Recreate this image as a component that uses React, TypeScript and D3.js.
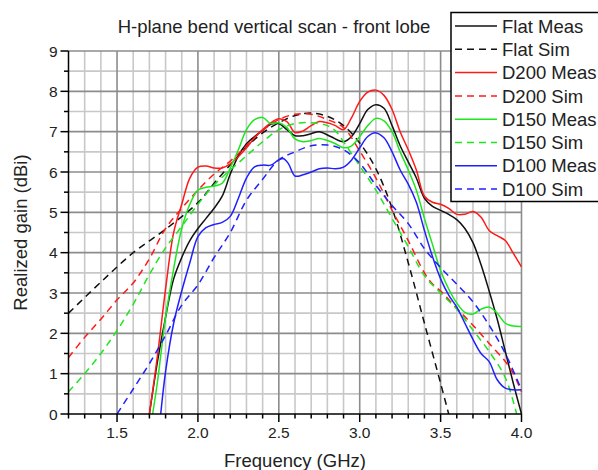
import React from "react";
import * as d3 from "d3";

const W = 598;
const H = 470;

const titleText = "H-plane bend vertical scan - front lobe";
const xLabel = "Frequency (GHz)";
const yLabel = "Realized gain (dBi)";

const xTickLabels = ["1.5", "2.0", "2.5", "3.0", "3.5", "4.0"];
const yTickLabels = ["0", "1", "2", "3", "4", "5", "6", "7", "8", "9"];

const flatMeas: [number, number][] = [
  [1.7, 0], [1.75, 1.3], [1.8, 2.4], [1.85, 3.35], [1.9, 3.88], [1.95, 4.3], [2.0, 4.6], [2.05, 4.85],
  [2.1, 5.1], [2.15, 5.4], [2.2, 5.95], [2.25, 6.4], [2.3, 6.7], [2.35, 6.88], [2.4, 7.03], [2.45, 7.18],
  [2.5, 7.2], [2.55, 7.05], [2.6, 6.9], [2.65, 6.9], [2.7, 6.95], [2.75, 7.0], [2.82, 6.88], [2.9, 6.75],
  [2.95, 6.88], [3.0, 7.2], [3.05, 7.55], [3.1, 7.67], [3.15, 7.58], [3.2, 7.15], [3.25, 6.65], [3.3, 6.25],
  [3.35, 5.85], [3.4, 5.35], [3.45, 5.15], [3.5, 5.05], [3.55, 4.95], [3.6, 4.82], [3.65, 4.6], [3.7, 4.25],
  [3.75, 3.7], [3.8, 3.05], [3.85, 2.35], [3.9, 1.55], [3.95, 0.75], [4.0, 0],
];

const flatSim: [number, number][] = [
  [1.2, 2.5], [1.4, 3.27], [1.6, 4.0], [1.8, 4.58], [2.0, 5.24], [2.1, 5.72], [2.2, 6.18], [2.3, 6.62],
  [2.4, 6.97], [2.5, 7.22], [2.6, 7.4], [2.7, 7.46], [2.8, 7.38], [2.9, 7.15], [3.0, 6.72], [3.1, 6.08],
  [3.2, 5.1], [3.3, 3.75], [3.4, 2.25], [3.5, 0.76], [3.55, 0],
];

const d200Meas: [number, number][] = [
  [1.7, 0], [1.75, 1.45], [1.8, 3.1], [1.85, 4.5], [1.9, 5.2], [1.95, 5.85], [2.0, 6.12], [2.05, 6.15],
  [2.1, 6.1], [2.15, 6.1], [2.2, 6.2], [2.25, 6.38], [2.3, 6.6], [2.35, 6.85], [2.4, 7.05], [2.45, 7.22],
  [2.5, 7.32], [2.55, 7.25], [2.6, 6.98], [2.65, 7.02], [2.7, 7.15], [2.75, 7.25], [2.8, 7.22], [2.85, 7.15],
  [2.9, 7.05], [2.95, 7.35], [3.0, 7.75], [3.05, 7.98], [3.1, 8.03], [3.15, 7.9], [3.2, 7.55], [3.25, 7.0],
  [3.3, 6.55], [3.35, 6.05], [3.4, 5.4], [3.45, 5.25], [3.5, 5.2], [3.55, 5.1], [3.6, 4.95], [3.65, 4.95],
  [3.7, 5.02], [3.75, 4.88], [3.8, 4.55], [3.85, 4.42], [3.9, 4.3], [3.95, 3.98], [4.0, 3.65],
];

const d200Sim: [number, number][] = [
  [1.2, 1.4], [1.3, 1.9], [1.4, 2.35], [1.5, 2.83], [1.6, 3.25], [1.7, 3.85], [1.8, 4.6], [1.9, 5.1],
  [2.0, 5.55], [2.1, 5.95], [2.2, 6.27], [2.3, 6.65], [2.4, 7.03], [2.5, 7.3], [2.6, 7.43], [2.7, 7.43],
  [2.8, 7.3], [2.9, 7.1], [3.0, 6.52], [3.1, 5.85], [3.2, 5.05], [3.3, 4.3], [3.4, 3.5], [3.45, 3.22],
  [3.5, 3.05], [3.6, 2.62], [3.7, 2.2], [3.8, 1.75], [3.9, 1.3], [3.95, 1.0], [4.0, 0.55],
];

const d150Meas: [number, number][] = [
  [1.72, 0], [1.75, 0.8], [1.8, 2.4], [1.85, 3.6], [1.9, 4.6], [1.95, 5.2], [2.0, 5.55], [2.05, 5.62],
  [2.1, 5.65], [2.15, 5.72], [2.2, 6.1], [2.25, 6.55], [2.3, 7.05], [2.35, 7.3], [2.4, 7.35], [2.45, 7.2],
  [2.5, 7.22], [2.55, 7.1], [2.6, 6.82], [2.65, 6.75], [2.7, 6.78], [2.75, 6.83], [2.8, 6.78], [2.85, 6.7],
  [2.9, 6.6], [2.95, 6.65], [3.0, 6.88], [3.05, 7.15], [3.1, 7.33], [3.15, 7.27], [3.2, 7.0], [3.25, 6.5],
  [3.3, 6.05], [3.35, 5.55], [3.4, 4.85], [3.45, 4.2], [3.5, 3.55], [3.55, 3.1], [3.6, 2.75], [3.65, 2.52],
  [3.7, 2.48], [3.75, 2.6], [3.8, 2.65], [3.85, 2.5], [3.9, 2.25], [3.95, 2.18], [4.0, 2.17],
];

const d150Sim: [number, number][] = [
  [1.2, 0.55], [1.3, 1.0], [1.4, 1.5], [1.5, 2.07], [1.6, 2.72], [1.7, 3.46], [1.8, 4.12], [1.9, 4.65],
  [2.0, 5.2], [2.1, 5.68], [2.2, 6.05], [2.3, 6.4], [2.4, 6.75], [2.5, 7.05], [2.6, 7.2], [2.7, 7.22],
  [2.8, 7.15], [2.85, 7.02], [2.9, 6.75], [3.0, 6.15], [3.1, 5.55], [3.2, 4.85], [3.3, 4.15], [3.4, 3.43],
  [3.5, 3.0], [3.6, 2.6], [3.7, 2.08], [3.8, 1.55], [3.9, 0.9], [3.97, 0],
];

const d100Meas: [number, number][] = [
  [1.77, 0], [1.8, 1.05], [1.85, 2.25], [1.9, 3.05], [1.95, 3.75], [2.0, 4.4], [2.05, 4.62], [2.1, 4.7],
  [2.15, 4.75], [2.2, 4.9], [2.25, 5.35], [2.3, 5.85], [2.35, 6.13], [2.4, 6.17], [2.45, 6.17], [2.5, 6.3],
  [2.53, 6.33], [2.56, 6.2], [2.6, 5.9], [2.65, 5.93], [2.7, 6.0], [2.75, 6.08], [2.8, 6.1], [2.85, 6.08],
  [2.9, 6.12], [2.95, 6.3], [3.0, 6.6], [3.05, 6.88], [3.1, 6.97], [3.15, 6.85], [3.2, 6.5], [3.25, 6.05],
  [3.3, 5.7], [3.35, 5.25], [3.4, 4.55], [3.45, 3.9], [3.5, 3.35], [3.55, 2.95], [3.6, 2.65], [3.65, 2.25],
  [3.7, 1.85], [3.75, 1.5], [3.8, 1.3], [3.85, 0.85], [3.9, 0.64], [3.95, 0.6], [4.0, 0.6],
];

const d100Sim: [number, number][] = [
  [1.5, 0], [1.6, 0.62], [1.7, 1.25], [1.8, 1.95], [1.9, 2.7], [2.0, 3.2], [2.1, 3.88], [2.2, 4.5],
  [2.3, 5.3], [2.4, 5.82], [2.5, 6.3], [2.6, 6.5], [2.7, 6.65], [2.8, 6.67], [2.9, 6.55], [3.0, 6.22],
  [3.1, 5.67], [3.2, 5.17], [3.3, 4.72], [3.4, 4.1], [3.5, 3.63], [3.6, 3.22], [3.7, 2.78], [3.8, 2.2],
  [3.9, 1.5], [4.0, 0.6],
];

const seriesNames = ["Flat Meas", "Flat Sim", "D200 Meas", "D200 Sim", "D150 Meas", "D150 Sim", "D100 Meas", "D100 Sim"];
const seriesData = [flatMeas, flatSim, d200Meas, d200Sim, d150Meas, d150Sim, d100Meas, d100Sim];
const seriesColors = ["#111111", "#111111", "#ff1a1a", "#ff1a1a", "#1ee61e", "#1ee61e", "#1f1fff", "#1f1fff"];
const seriesDashed = [false, true, false, true, false, true, false, true];

const FONT = "'Liberation Sans', Arial, sans-serif";

export default function App() {
  const x = d3.scaleLinear().domain([1.2, 4.0]).range([68.5, 521.5]);
  const y = d3.scaleLinear().domain([0, 9]).range([414, 51]);
  const [x0, x1] = x.range();
  const [y0, y1] = y.range();

  const minorX = d3.range(13, 41).map((v) => v / 10).filter((v) => Math.round(v * 10) % 5 !== 0);
  const majorX = [1.5, 2.0, 2.5, 3.0, 3.5, 4.0];
  const minorY = d3.range(0, 9).map((v) => v + 0.5);
  const majorY = d3.range(1, 10);
  const allXTicks = d3.range(12, 41).map((v) => v / 10);

  const line = d3
    .line<[number, number]>()
    .x((d) => x(d[0]))
    .y((d) => y(d[1]))
    .curve(d3.curveCatmullRom.alpha(0.5));

  const legendX = 451;
  const legendY = 12.5;
  const legendRowH = 23.3;
  const legendFirst = 26;

  return (
    <svg width={W} height={H} style={{ position: "absolute", left: 0, top: 0 }} fontFamily={FONT}>
      <rect x={0} y={0} width={W} height={H} fill="#ffffff" />
      <defs>
        <clipPath id="plotClip">
          <rect x={x0} y={y1 - 2} width={x1 - x0 + 2} height={y0 - y1 + 2} />
        </clipPath>
      </defs>
      {/* grid */}
      <g>
        {minorX.map((v) => (
          <line key={"mx" + v} x1={x(v)} x2={x(v)} y1={y0} y2={y1} stroke="#c8c8c8" strokeWidth={1.6} />
        ))}
        {minorY.map((v) => (
          <line key={"my" + v} x1={x0} x2={x1} y1={y(v)} y2={y(v)} stroke="#c8c8c8" strokeWidth={1.6} />
        ))}
        {majorX.map((v) => (
          <line key={"Mx" + v} x1={x(v)} x2={x(v)} y1={y0} y2={y1} stroke="#8c8c8c" strokeWidth={1.6} />
        ))}
        {majorY.map((v) => (
          <line key={"My" + v} x1={x0} x2={x1} y1={y(v)} y2={y(v)} stroke="#8c8c8c" strokeWidth={1.6} />
        ))}
      </g>
      {/* series */}
      <g clipPath="url(#plotClip)">
        {seriesData.map((d, i) => (
          <path
            key={seriesNames[i]}
            d={line(d) || ""}
            fill="none"
            stroke={seriesColors[i]}
            strokeWidth={1.5}
            strokeDasharray={seriesDashed[i] ? "7,5" : undefined}
          />
        ))}
      </g>
      {/* axes */}
      <g stroke="#000" strokeWidth={1.5}>
        <line x1={x0} x2={x0} y1={y1} y2={y0 + 0.75} />
        <line x1={x0 - 0.75} x2={x1} y1={y0} y2={y0} />
        {allXTicks.map((v) => {
          const major = Math.round(v * 10) % 5 === 0;
          return <line key={"tx" + v} x1={x(v)} x2={x(v)} y1={y0} y2={y0 + (major ? 8 : 4.5)} />;
        })}
        {d3.range(0, 19).map((k) => {
          const v = k / 2;
          const major = k % 2 === 0;
          return <line key={"ty" + k} x1={x0 - (major ? 8 : 4.5)} x2={x0} y1={y(v)} y2={y(v)} />;
        })}
      </g>
      {/* tick labels */}
      <g fontSize={15.5} fill="#222">
        {xTickLabels.map((t) => (
          <text key={"xl" + t} x={x(+t)} y={438} textAnchor="middle">
            {t}
          </text>
        ))}
        {yTickLabels.map((t) => (
          <text key={"yl" + t} x={57.5} y={y(+t) + 5.5} textAnchor="end">
            {t}
          </text>
        ))}
      </g>
      {/* axis titles */}
      <text x={(x0 + x1) / 2} y={467} textAnchor="middle" fontSize={18.5} fill="#222">
        {xLabel}
      </text>
      <text
        transform={`translate(27,${(y0 + y1) / 2}) rotate(-90)`}
        textAnchor="middle"
        fontSize={18.5}
        fill="#222"
      >
        {yLabel}
      </text>
      {/* title */}
      <text x={274} y={32.5} textAnchor="middle" fontSize={18.5} fill="#222">
        {titleText}
      </text>
      {/* legend */}
      <g>
        <rect
          x={legendX}
          y={legendY}
          width={W - legendX + 20}
          height={201.5 - legendY}
          fill="#ffffff"
          stroke="#000"
          strokeWidth={1.5}
        />
        {seriesNames.map((name, i) => {
          const cy = legendFirst + i * legendRowH;
          return (
            <g key={"lg" + name}>
              <line
                x1={455}
                x2={497}
                y1={cy}
                y2={cy}
                stroke={seriesColors[i]}
                strokeWidth={1.5}
                strokeDasharray={seriesDashed[i] ? "7,5" : undefined}
              />
              <text x={502} y={cy + 6.6} fontSize={18.5} fill="#222">
                {name}
              </text>
            </g>
          );
        })}
      </g>
    </svg>
  );
}
